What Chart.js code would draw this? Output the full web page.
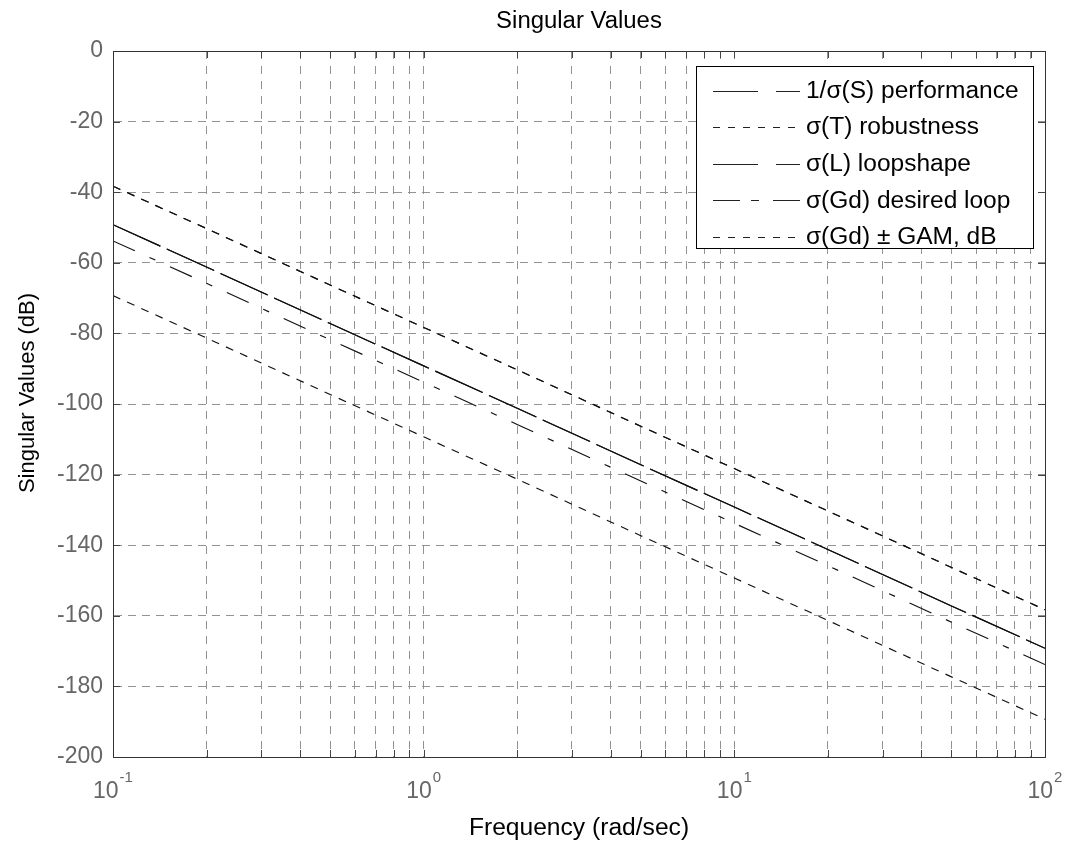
<!DOCTYPE html>
<html>
<head>
<meta charset="utf-8">
<title>Singular Values</title>
<script src="https://cdn.jsdelivr.net/npm/chart.js@4.4.1/dist/chart.umd.min.js"></script>
<style>
  html, body { margin: 0; padding: 0; background: #fff; }
  #wrap { position: relative; width: 1067px; height: 846px; }
</style>
</head>
<body>
<div id="wrap"><canvas id="c" width="1067" height="846"></canvas></div>
<script>
// ── data (dB vs rad/sec) ──────────────────────────────────────────────────
const FREQ     = [0.1, 0.2, 0.5, 1, 2, 5, 10, 20, 50, 100];
const INV_S    = [-49.2, -61.2, -77.2, -89.2, -101.2, -117.2, -129.2, -141.2, -157.2, -169.2];
const SIGMA_T  = [-38.3, -50.3, -66.3, -78.3, -90.3, -106.3, -118.3, -130.3, -146.3, -158.3];
const SIGMA_L  = [-49.2, -61.2, -77.2, -89.2, -101.2, -117.2, -129.2, -141.2, -157.2, -169.2];
const SIGMA_GD = [-53.8, -65.8, -81.8, -93.8, -105.8, -121.8, -133.8, -145.8, -161.8, -173.8];
const GD_UPPER = [-38.3, -50.3, -66.3, -78.3, -90.3, -106.3, -118.3, -130.3, -146.3, -158.3];
const GD_LOWER = [-69.3, -81.3, -97.3, -109.3, -121.3, -137.3, -149.3, -161.3, -177.3, -189.3];

// ── axes ──────────────────────────────────────────────────────────────────
const Y_TICKS = [0, -20, -40, -60, -80, -100, -120, -140, -160, -180, -200];
const X_TICKS = [0.1, 0.2, 0.3, 0.4, 0.5, 0.6, 0.7, 0.8, 0.9,
                 1, 2, 3, 4, 5, 6, 7, 8, 9,
                 10, 20, 30, 40, 50, 60, 70, 80, 90, 100];
const X_DECADES = [0.1, 1, 10, 100];
const X_EXPONENTS = ["-1", "0", "1", "2"];

const FONT = '"Liberation Sans", Arial, Helvetica, sans-serif';
const pts = (ys) => FREQ.map((f, i) => ({ x: f, y: ys[i] }));

// text a bit wider than the font, like the old matlab export
function wideText(ctx, text, x, y, sx, align) {
  ctx.save();
  ctx.translate(x, y);
  ctx.scale(sx, 1);
  ctx.textAlign = align;
  ctx.fillText(text, 0, 0);
  ctx.restore();
}

// ── text, ticks, box and legend drawn on top of the chart ────────────────
const matlabFrame = {
  id: "matlabFrame",
  afterDatasetsDraw(chart) {
    const { ctx, chartArea: a, scales: { x, y } } = chart;
    ctx.save();

    // inward tick marks on all four sides
    ctx.strokeStyle = "#444";
    ctx.lineWidth = 1;
    ctx.setLineDash([]);
    ctx.beginPath();
    X_TICKS.forEach((v) => {
      const px = Math.round(x.getPixelForValue(v)) + 0.5;
      ctx.moveTo(px, a.bottom); ctx.lineTo(px, a.bottom - 7);
      ctx.moveTo(px, a.top);    ctx.lineTo(px, a.top + 7);
    });
    Y_TICKS.forEach((v) => {
      const py = Math.round(y.getPixelForValue(v)) + 0.5;
      ctx.moveTo(a.left, py);  ctx.lineTo(a.left + 7, py);
      ctx.moveTo(a.right, py); ctx.lineTo(a.right - 7, py);
    });
    ctx.stroke();

    // axes box
    ctx.strokeStyle = "#333";
    ctx.strokeRect(Math.round(a.left) + 0.5, Math.round(a.top) + 0.5,
                   Math.round(a.right - a.left), Math.round(a.bottom - a.top));

    // x tick labels : 10^n
    ctx.fillStyle = "#666";
    ctx.textBaseline = "alphabetic";
    ctx.textAlign = "left";
    X_DECADES.forEach((v, i) => {
      const px = x.getPixelForValue(v);
      ctx.font = "23px " + FONT;
      const wBase = ctx.measureText("10").width;
      ctx.font = "15px " + FONT;
      const wExp = ctx.measureText(X_EXPONENTS[i]).width;
      const x0 = px - (wBase + 1 + wExp) / 2;
      ctx.font = "23px " + FONT;
      ctx.fillText("10", x0, a.bottom + 41);
      ctx.font = "15px " + FONT;
      ctx.fillText(X_EXPONENTS[i], x0 + wBase + 1, a.bottom + 25);
    });

    // title and axis titles
    ctx.fillStyle = "#000";
    ctx.textBaseline = "alphabetic";
    ctx.font = "23px " + FONT;
    wideText(ctx, "Singular Values", (a.left + a.right) / 2, 28, 1.04, "center");
    wideText(ctx, "Frequency (rad/sec)", (a.left + a.right) / 2, 835, 1.07, "center");
    ctx.save();
    ctx.translate(28, 393);
    ctx.rotate(-Math.PI / 2);
    ctx.textBaseline = "middle";
    ctx.textAlign = "center";
    ctx.font = "22px " + FONT;
    ctx.fillText("Singular Values (dB)", 0, 0);
    ctx.restore();

    // legend box (upper right, inside the axes)
    const box = { left: 696, top: 66, right: 1033, bottom: 248 };
    ctx.fillStyle = "#fff";
    ctx.fillRect(box.left, box.top, box.right - box.left, box.bottom - box.top);
    ctx.strokeStyle = "#000";
    ctx.lineWidth = 1;
    ctx.strokeRect(box.left + 0.5, box.top + 0.5, box.right - box.left, box.bottom - box.top);

    const rows = chart.data.datasets.filter((d) => d.inLegend);
    rows.forEach((d, i) => {
      const cy = 90.5 + i * 36.6;
      ctx.strokeStyle = "#222";
      ctx.lineWidth = 1.1;
      ctx.setLineDash(d.legendDash);
      ctx.beginPath();
      ctx.moveTo(713, Math.round(cy) + 0.5);
      ctx.lineTo(800, Math.round(cy) + 0.5);
      ctx.stroke();
      ctx.setLineDash([]);
      ctx.fillStyle = "#000";
      ctx.textBaseline = "middle";
      ctx.font = "23px " + FONT;
      wideText(ctx, d.label, 806, cy + 1, 1.065, "left");
    });

    ctx.restore();
  },
};

const lineBase = {
  borderColor: "#111",
  borderWidth: 1.15,
  pointRadius: 0,
  fill: false,
  tension: 0,
};

new Chart(document.getElementById("c"), {
  type: "line",
  data: {
    datasets: [
      { ...lineBase, label: "1/\u03C3(S) performance", data: pts(INV_S),
        borderDash: [52, 7], legendDash: [45, 18], inLegend: true },
      { ...lineBase, label: "\u03C3(T) robustness", data: pts(SIGMA_T),
        borderDash: [8, 7.5], legendDash: [7, 8], inLegend: true },
      { ...lineBase, label: "\u03C3(L) loopshape", data: pts(SIGMA_L),
        borderDash: [52, 7], legendDash: [45, 18], inLegend: true },
      { ...lineBase, label: "\u03C3(Gd) desired loop", data: pts(SIGMA_GD),
        borderDash: [24, 16, 6.5, 16], legendDash: [27, 11, 8, 14], inLegend: true },
      { ...lineBase, label: "\u03C3(Gd) \u00B1 GAM, dB", data: pts(GD_UPPER),
        borderDash: [8, 7.5], legendDash: [7, 8], inLegend: true },
      { ...lineBase, label: "\u03C3(Gd) - GAM", data: pts(GD_LOWER),
        borderDash: [8, 7.5], legendDash: [7, 8], inLegend: false },
    ],
  },
  options: {
    responsive: false,
    devicePixelRatio: 1,
    animation: false,
    events: [],
    layout: { padding: { top: 51, right: 22, bottom: 89, left: 0 } },
    plugins: {
      legend: { display: false },
      title: { display: false },
      tooltip: { enabled: false },
    },
    scales: {
      x: {
        type: "logarithmic",
        min: 0.1,
        max: 100,
        afterBuildTicks: (s) => { s.ticks = X_TICKS.map((v) => ({ value: v })); },
        afterFit: (s) => { s.height = 0; },
        ticks: { display: false },
        grid: { color: "#939393", lineWidth: 1, drawTicks: false },
        border: { display: true, color: "#333", dash: [8, 7] },
      },
      y: {
        type: "linear",
        min: -200,
        max: 0,
        afterBuildTicks: (s) => { s.ticks = Y_TICKS.map((v) => ({ value: v })); },
        afterFit: (s) => { s.width = 113; },
        ticks: {
          padding: 10,
          color: "#666",
          font: { family: FONT, size: 23 },
          callback: (v) => String(v),
        },
        grid: { color: "#939393", lineWidth: 1, drawTicks: false },
        border: { display: true, color: "#333", dash: [8, 6] },
      },
    },
  },
  plugins: [matlabFrame],
});
</script>
</body>
</html>
